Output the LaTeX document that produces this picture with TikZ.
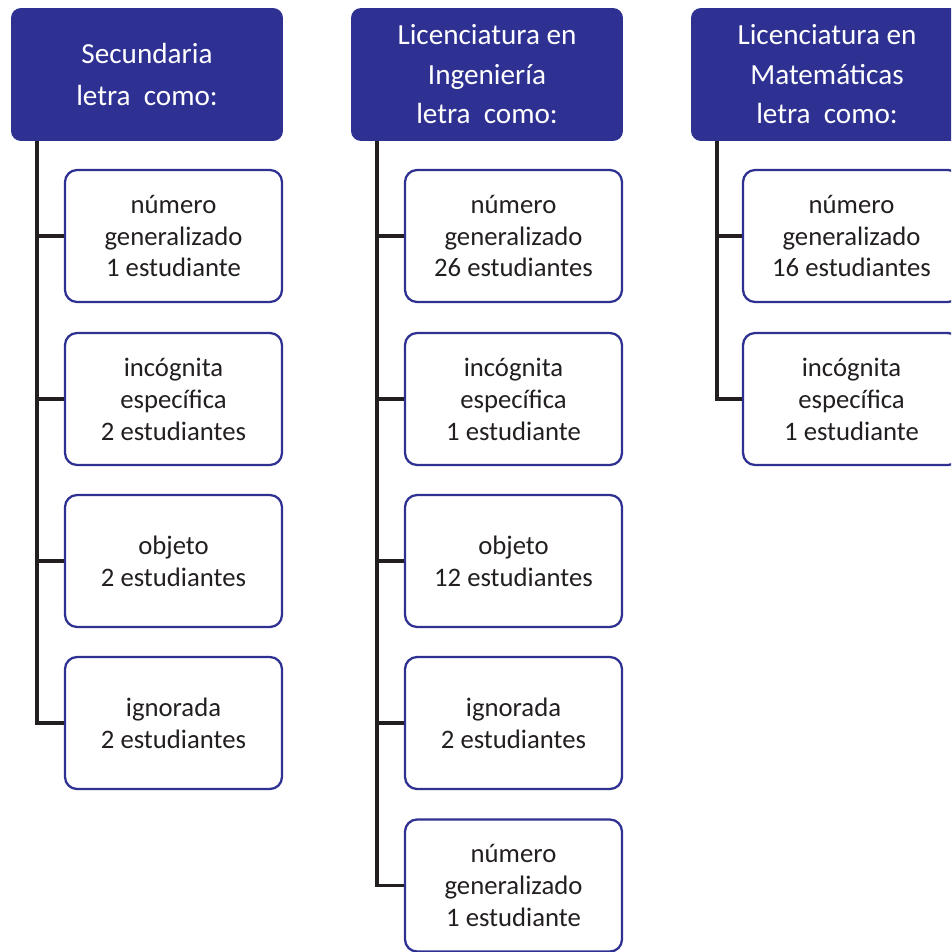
\documentclass[tikz,border=0pt]{standalone}
\usepackage{fontspec}
\setmainfont{Carlito}
\usepackage{tikz}
\definecolor{deepblue}{HTML}{2E3192}
\definecolor{inkgray}{HTML}{231F20}

\tikzset{
  head/.style={fill=deepblue, text=white, rounded corners=0.2cm, inner sep=0pt,
    minimum width=5.44cm, minimum height=2.66cm, align=center,
    font=\fontsize{16.6}{22.5}\selectfont},
  leaf/.style={draw=deepblue, line width=1.3pt, fill=white, text=inkgray, rounded corners=0.24cm,
    inner sep=0pt, minimum width=4.34cm, minimum height=2.64cm, align=center,
    font=\fontsize{15.2}{18.2}\selectfont},
  tree/.style={line width=1.8pt, inkgray}
}

\begin{document}
\begin{tikzpicture}[x=0.02cm, y=-0.02cm]

\clip (0,0) rectangle (951,952);

\coordinate (t1) at (37,0);
\coordinate (t2) at (377,0);
\coordinate (t3) at (717,0);

\node[head] (sec) at (147,74.5) {Secundaria\\[0.06cm]letra\ \ como:};
\node[head] (ing) at (487,74.5) {Licenciatura en\\Ingeniería\\letra\ \ como:};
\node[head] (mat) at (827,74.5) {Licenciatura en\\Matemáticas\\letra\ \ como:};

\node[leaf] (sec1) at (173.5,236) {número\\generalizado\\1 estudiante};
\node[leaf] (sec2) at (173.5,399) {incógnita\\específica\\2 estudiantes};
\node[leaf] (sec3) at (173.5,561) {objeto\\2 estudiantes};
\node[leaf] (sec4) at (173.5,723) {ignorada\\2 estudiantes};

\node[leaf] (ing1) at (513.5,236) {número\\generalizado\\26 estudiantes};
\node[leaf] (ing2) at (513.5,399) {incógnita\\específica\\1 estudiante};
\node[leaf] (ing3) at (513.5,561) {objeto\\12 estudiantes};
\node[leaf] (ing4) at (513.5,723) {ignorada\\2 estudiantes};
\node[leaf] (ing5) at (513.5,885.5) {número\\generalizado\\1 estudiante};

\node[leaf] (mat1) at (851.5,236) {número\\generalizado\\16 estudiantes};
\node[leaf] (mat2) at (851.5,399) {incógnita\\específica\\1 estudiante};

\draw[tree] (sec.south -| t1) |- (sec1.west);
\draw[tree] (sec.south -| t1) |- (sec2.west);
\draw[tree] (sec.south -| t1) |- (sec3.west);
\draw[tree] (sec.south -| t1) |- (sec4.west);

\draw[tree] (ing.south -| t2) |- (ing1.west);
\draw[tree] (ing.south -| t2) |- (ing2.west);
\draw[tree] (ing.south -| t2) |- (ing3.west);
\draw[tree] (ing.south -| t2) |- (ing4.west);
\draw[tree] (ing.south -| t2) |- (ing5.west);

\draw[tree] (mat.south -| t3) |- (mat1.west);
\draw[tree] (mat.south -| t3) |- (mat2.west);

\end{tikzpicture}
\end{document}
